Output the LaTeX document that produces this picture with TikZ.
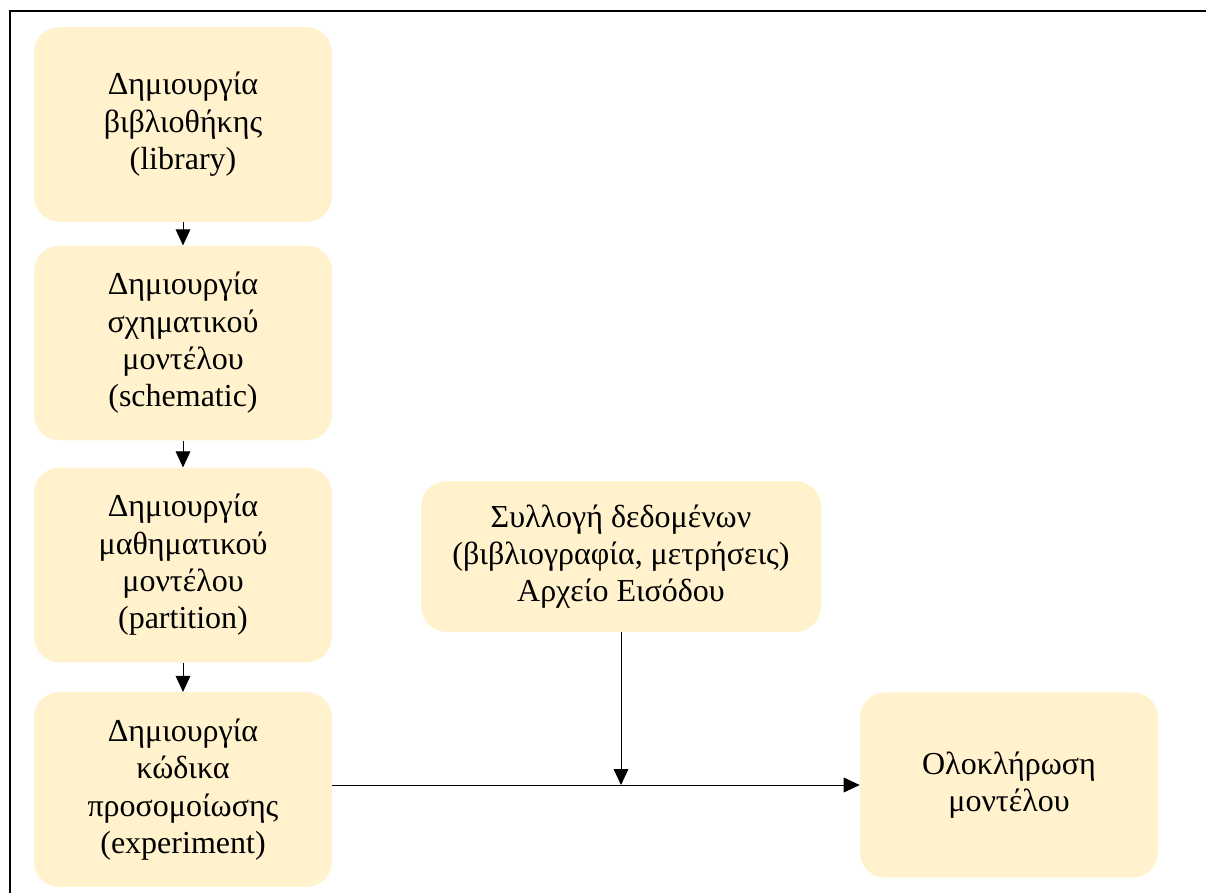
\documentclass[tikz,border=0pt]{standalone}
\usepackage{fontspec}
\setmainfont{Liberation Serif}
\usepackage{tikz}
\usetikzlibrary{arrows.meta}
\definecolor{boxfill}{HTML}{FFF2CC}
\tikzset{
  stage/.style={fill=boxfill, rounded corners=19pt, align=center, inner sep=0pt,
    font=\fontsize{24}{28}\selectfont, minimum width=223.5pt, minimum height=146pt},
  arr/.style={line width=0.75pt, -{Triangle[length=12pt,width=11pt]}}
}

\begin{document}
\begin{tikzpicture}[x=0.75pt,y=0.75pt,yscale=-1,xscale=1]
\useasboundingbox (0,0) rectangle (1206,893);

%Frame
\draw [line width=1.3pt]  (10,893) -- (10,11) -- (1206,11) ;

% Left column
\node [stage] (lib) at (183,124.5) {Δημιουργία\\βιβλιοθήκης\\(library)};
\node [stage] (schem) at (183,343) {Δημιουργία\\σχηματικού\\μοντέλου\\(schematic)};
\node [stage] (part) at (183,565) {Δημιουργία\\μαθηματικού\\μοντέλου\\(partition)};
\node [stage] (code) at (183,789.5) {Δημιουργία\\κώδικα\\προσομοίωσης\\(experiment)};

% Data and result
\node [stage, minimum width=300pt, minimum height=113pt] (data) at (621,556.5) {Συλλογή δεδομένων\\(βιβλιογραφία, μετρήσεις)\\Αρχείο Εισόδου};
\node [stage, minimum height=139pt] (done) at (1009,785) {Ολοκλήρωση\\μοντέλου};

%Straight Lines
\draw [arr] (lib) -- (schem) ;
\draw [arr] (schem) -- (part) ;
\draw [arr] (part) -- (code) ;
\draw [arr] (done.west -| code.east) -- (done.west) ;
\coordinate (merge) at (data.south |- done.west) ;
\draw [arr] (data.south) -- (merge) ;

\end{tikzpicture}
\end{document}
